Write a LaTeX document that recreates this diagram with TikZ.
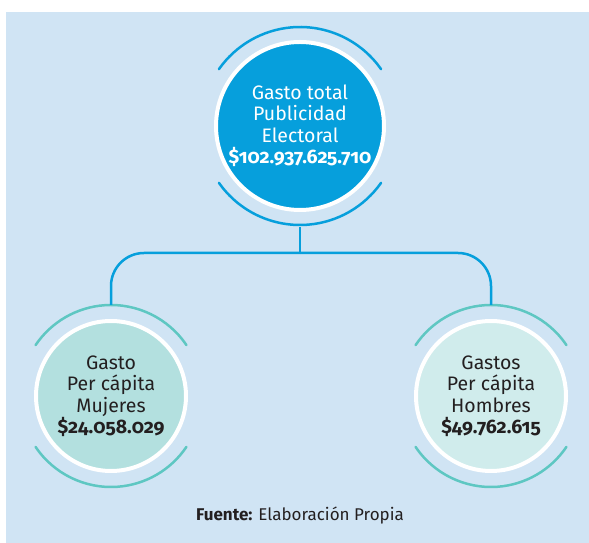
\documentclass[tikz,border=0pt]{standalone}
\usepackage{fontspec}
\setmainfont{Fira Sans}[RawFeature=+onum]
\usetikzlibrary{positioning}

\definecolor{bgblue}{HTML}{D0E4F4}
\definecolor{diskblue}{HTML}{069FDC}
\definecolor{arcteal}{HTML}{5EC7C2}
\definecolor{womenfill}{HTML}{B3E0DF}
\definecolor{menfill}{HTML}{D0ECEC}
\definecolor{inkdark}{HTML}{231F20}

\tikzset{
    disk/.style={circle, draw=white, line width=4pt, inner sep=0pt, align=center,
        font=\fontsize{19.5}{21.5}\selectfont},
    bigdisk/.style={disk, fill=diskblue, text=white, minimum size=168pt},
    smalldisk/.style={disk, text=inkdark, minimum size=150pt},
    halo/.style={line width=2.5pt, line cap=round},
    link/.style={draw=diskblue, line width=2.5pt}
}

\begin{document}
\begin{tikzpicture}[x=1pt,y=1pt]
    \useasboundingbox (0,0) rectangle (589,543);
    \fill[bgblue] (6,0) rectangle (589,531);

    \node[bigdisk] (top) at (300,417)
        {Gasto total\\Publicidad\\Electoral\\\textbf{\$102.937.625.710}};
    \node[smalldisk, fill=womenfill] (left) at (111,147)
        {Gasto\\Per cápita\\Mujeres\\\textbf{\$24.058.029}};
    \node[smalldisk, fill=menfill] (right) at (491,147)
        {Gastos\\Per cápita\\Hombres\\\textbf{\$49.762.615}};

    % arcs round the circles
    \draw[halo, diskblue] (top.center) ++(35:99) arc[start angle=35, end angle=145, radius=99];
    \draw[halo, diskblue] (top.center) ++(215:99) arc[start angle=215, end angle=325, radius=99];
    \foreach \n in {left,right} {
        \draw[halo, arcteal] (\n.center) ++(34:91) arc[start angle=34, end angle=146, radius=91];
        \draw[halo, arcteal] (\n.center) ++(214:91) arc[start angle=214, end angle=326, radius=91];
    }

    % connectors
    \path (top.south) ++(0,-41) coordinate (fork);
    \draw[link] ([yshift=-15pt]top.south) -- (fork);
    \draw[link, rounded corners=33pt] (fork) -| ([yshift=14pt]left.north);
    \draw[link, rounded corners=33pt] (fork) -| ([yshift=14pt]right.north);

    \node[text=inkdark, font=\fontsize{17}{20}\selectfont] (source) at (300,27)
        {\textbf{Fuente:} Elaboración Propia};
\end{tikzpicture}
\end{document}
